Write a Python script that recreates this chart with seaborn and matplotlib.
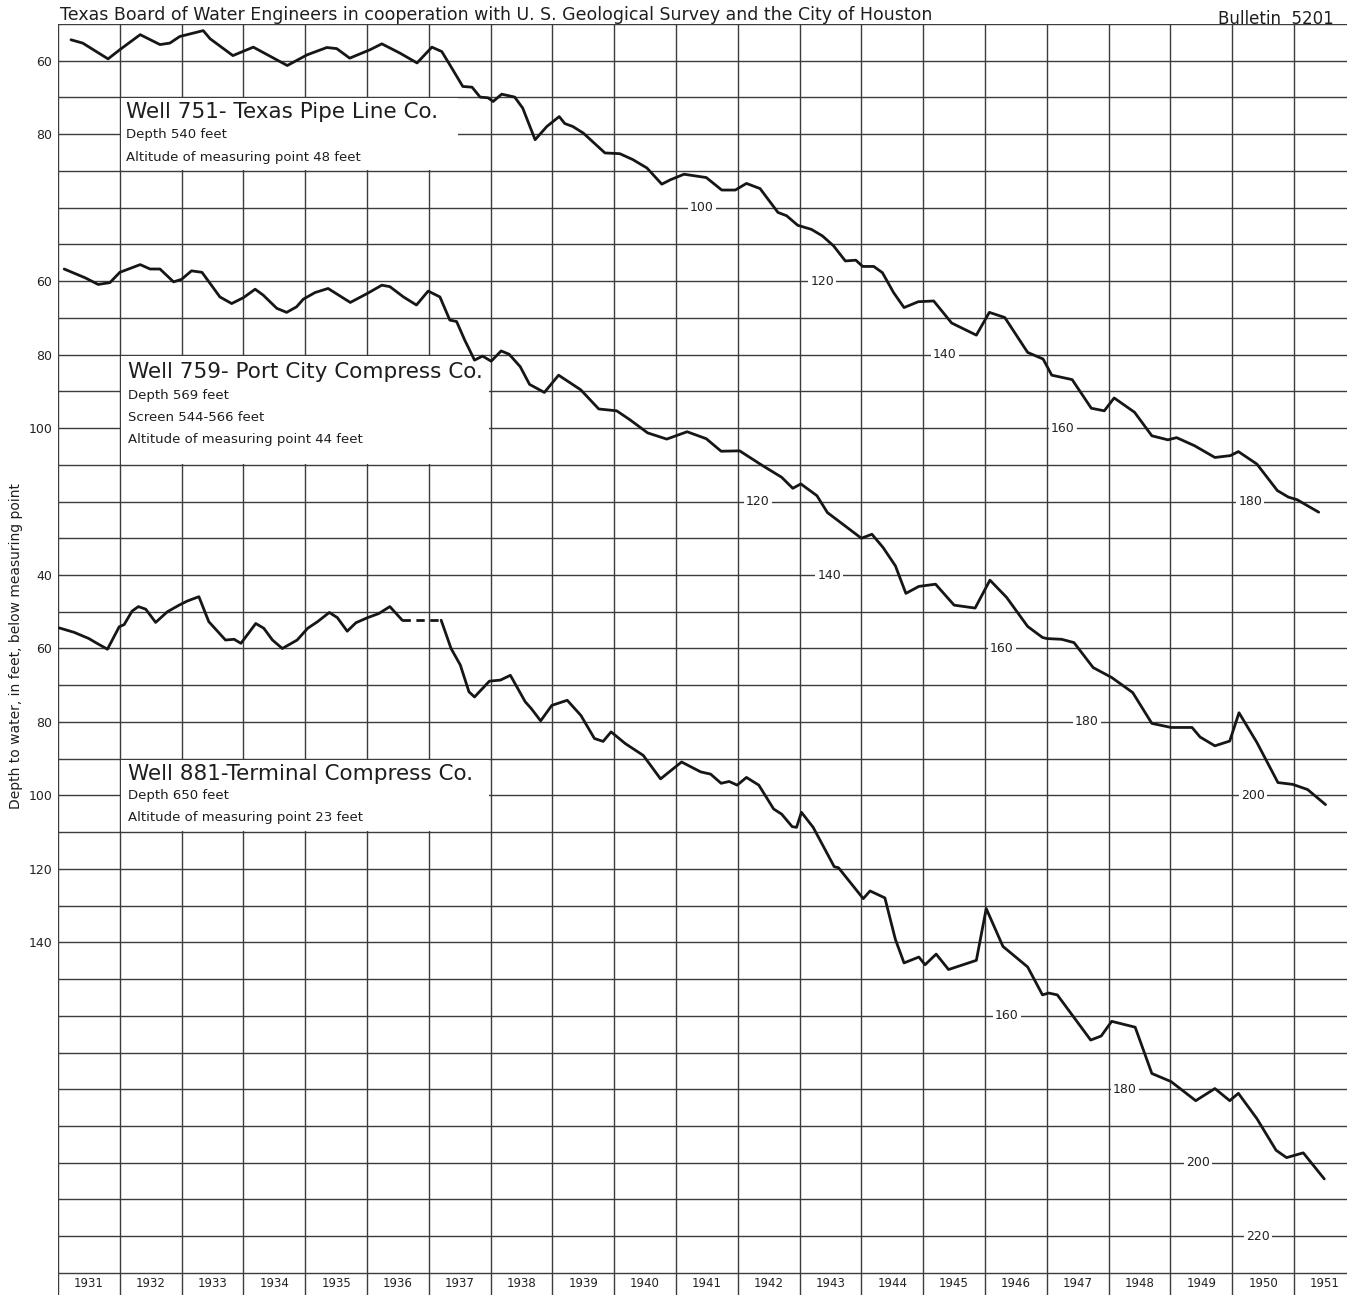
import numpy as np
import pandas as pd
import matplotlib
matplotlib.use("Agg")
import matplotlib.pyplot as plt
import seaborn as sns
from matplotlib.patches import Rectangle

# Well 751 - Texas Pipe Line Co.
years_751 = [1931.21, 1931.40, 1931.81, 1932.00, 1932.33, 1932.65, 1932.81, 1932.97, 1933.35, 1933.46,
             1933.83, 1934.16, 1934.71, 1935.03, 1935.35, 1935.51, 1935.72, 1936.05, 1936.24, 1936.53,
             1936.81, 1937.05, 1937.21, 1937.34, 1937.55, 1937.70, 1937.83, 1937.96, 1938.04, 1938.18,
             1938.39, 1938.52, 1938.72, 1938.91, 1939.11, 1939.20, 1939.33, 1939.50, 1939.85, 1940.09,
             1940.30, 1940.53, 1940.77, 1940.91, 1941.13, 1941.49, 1941.74, 1941.96, 1942.14, 1942.36,
             1942.65, 1942.79, 1942.97, 1943.19, 1943.37, 1943.55, 1943.74, 1943.91, 1944.02, 1944.20,
             1944.34, 1944.52, 1944.69, 1944.92, 1945.17, 1945.46, 1945.86, 1946.07, 1946.32, 1946.69,
             1946.94, 1947.08, 1947.41, 1947.72, 1947.93, 1948.09, 1948.42, 1948.70, 1948.96, 1949.10,
             1949.39, 1949.72, 1949.97, 1950.10, 1950.40, 1950.73, 1950.91, 1951.05, 1951.40]
depth_751 = [54.3, 55.2, 59.5, 57.0, 52.9, 55.6, 55.2, 53.4, 51.8, 54.0,
             58.6, 56.3, 61.3, 58.4, 56.4, 56.7, 59.3, 57.0, 55.4, 57.9,
             60.6, 56.3, 57.5, 61.1, 67.0, 67.2, 69.9, 70.1, 71.1, 69.1,
             69.9, 72.9, 81.5, 77.9, 75.2, 77.1, 77.9, 79.7, 85.1, 85.3,
             86.9, 89.2, 93.6, 92.4, 90.9, 91.8, 95.2, 95.2, 93.4, 94.8,
             101.3, 102.2, 104.8, 105.9, 107.7, 110.4, 114.5, 114.3, 116.0, 116.0,
             117.7, 123.1, 127.2, 125.6, 125.4, 131.4, 134.7, 128.5, 129.9, 139.4,
             141.2, 145.6, 146.8, 154.6, 155.3, 151.8, 155.7, 162.1, 163.2, 162.6,
             164.8, 168.0, 167.5, 166.4, 169.8, 177.0, 178.8, 179.5, 182.9]

# Well 759 - Port City Compress Co.
years_759 = [1931.10, 1931.44, 1931.65, 1931.84, 1932.00, 1932.33, 1932.49, 1932.65, 1932.87, 1933.00,
             1933.16, 1933.33, 1933.62, 1933.81, 1934.00, 1934.19, 1934.32, 1934.54, 1934.70, 1934.86,
             1934.97, 1935.16, 1935.37, 1935.73, 1936.00, 1936.24, 1936.37, 1936.59, 1936.80, 1936.99,
             1937.18, 1937.34, 1937.45, 1937.58, 1937.74, 1937.87, 1938.01, 1938.17, 1938.30, 1938.48,
             1938.63, 1938.87, 1939.10, 1939.46, 1939.75, 1940.04, 1940.26, 1940.54, 1940.85, 1941.18,
             1941.49, 1941.73, 1942.03, 1942.38, 1942.71, 1942.89, 1943.02, 1943.28, 1943.45, 1944.00,
             1944.17, 1944.35, 1944.55, 1944.72, 1944.93, 1945.20, 1945.50, 1945.84, 1946.08, 1946.35,
             1946.69, 1946.93, 1947.00, 1947.24, 1947.44, 1947.75, 1948.05, 1948.39, 1948.70, 1949.01,
             1949.35, 1949.48, 1949.72, 1949.96, 1950.11, 1950.40, 1950.74, 1950.98, 1951.22, 1951.51]
depth_759 = [56.7, 59.1, 60.9, 60.4, 57.6, 55.5, 56.7, 56.7, 60.2, 59.5,
             57.2, 57.6, 64.3, 66.1, 64.5, 62.2, 63.8, 67.4, 68.5, 67.0,
             64.9, 63.1, 62.0, 65.8, 63.4, 61.1, 61.5, 64.3, 66.5, 62.7,
             64.3, 70.6, 71.0, 76.0, 81.5, 80.4, 81.8, 79.0, 79.9, 83.3,
             88.1, 90.3, 85.6, 89.6, 94.8, 95.3, 97.8, 101.3, 103.0, 101.0,
             102.9, 106.3, 106.2, 110.0, 113.4, 116.4, 115.2, 118.4, 123.0, 130.0,
             128.9, 132.5, 137.5, 145.0, 143.1, 142.5, 148.2, 149.0, 141.4, 146.1,
             154.0, 157.0, 157.3, 157.5, 158.4, 165.2, 167.9, 172.0, 180.4, 181.5,
             181.5, 184.1, 186.5, 185.2, 177.5, 185.6, 196.5, 197.0, 198.4, 202.5]

# Well 881 - Terminal Compress Co. (record broken in 1936-37)
years_881a = [1931.02, 1931.26, 1931.50, 1931.61, 1931.80, 1931.99, 1932.07, 1932.20, 1932.30, 1932.42,
              1932.58, 1932.77, 1932.96, 1933.09, 1933.28, 1933.44, 1933.71, 1933.85, 1933.96, 1934.20,
              1934.33, 1934.47, 1934.63, 1934.87, 1935.04, 1935.20, 1935.39, 1935.52, 1935.68, 1935.82,
              1936.01, 1936.19, 1936.37, 1936.57]
depth_881a = [54.4, 55.6, 57.3, 58.4, 60.2, 54.1, 53.5, 49.8, 48.6, 49.3,
              52.9, 50.0, 48.2, 47.1, 45.9, 52.7, 57.7, 57.5, 58.6, 53.2,
              54.5, 57.7, 60.0, 57.7, 54.5, 52.7, 50.2, 51.6, 55.3, 53.0,
              51.6, 50.5, 48.6, 52.3]
years_881b = [1937.20, 1937.36, 1937.51, 1937.65, 1937.74, 1937.98, 1938.16, 1938.32, 1938.56, 1938.66,
              1938.81, 1938.99, 1939.24, 1939.46, 1939.68, 1939.82, 1939.95, 1940.18, 1940.47, 1940.75,
              1941.09, 1941.40, 1941.56, 1941.73, 1941.86, 1941.99, 1942.14, 1942.34, 1942.58, 1942.71,
              1942.88, 1942.95, 1943.03, 1943.22, 1943.56, 1943.63, 1944.03, 1944.14, 1944.38, 1944.55,
              1944.69, 1944.93, 1945.03, 1945.21, 1945.41, 1945.86, 1946.02, 1946.29, 1946.69, 1946.93,
              1947.03, 1947.17, 1947.71, 1947.88, 1948.05, 1948.43, 1948.70, 1949.01, 1949.41, 1949.72,
              1949.96, 1950.10, 1950.40, 1950.71, 1950.88, 1951.15, 1951.49]
depth_881b = [52.3, 60.0, 64.5, 71.8, 73.2, 68.9, 68.6, 67.3, 74.5, 76.4,
              79.7, 75.5, 74.1, 78.2, 84.5, 85.3, 82.7, 85.9, 89.1, 95.5,
              90.9, 93.6, 94.2, 96.7, 96.2, 97.2, 95.1, 97.2, 103.7, 105.1,
              108.5, 108.7, 104.6, 108.7, 119.4, 119.7, 128.1, 126.0, 127.9, 139.2,
              145.6, 144.0, 146.1, 143.2, 147.4, 144.9, 130.8, 141.1, 146.7, 154.3,
              153.8, 154.3, 166.6, 165.5, 161.5, 163.1, 175.7, 177.9, 183.1, 179.8,
              183.1, 181.1, 188.0, 196.6, 198.6, 197.3, 204.4]

# axis labels of each panel (feet below measuring point)
left_ticks_751 = [60, 80]
left_ticks_759 = [60, 80, 100]
left_ticks_881 = [40, 60, 80, 100, 120, 140]
inline_751 = [100, 120, 140, 160, 180]
inline_759 = [120, 140, 160, 180, 200]
inline_881 = [160, 180, 200, 220]
year_labels = list(range(1931, 1952))

# the three hydrographs share one sheet; each is shifted to its own place
offset = {"751": -160, "759": -100, "881": 0}
inline_x = {"751": [1941.42, 1943.37, 1945.35, 1947.26, 1950.29],
            "759": [1942.32, 1943.48, 1946.27, 1947.65, 1950.33],
            "881": [1946.35, 1948.26, 1949.45, 1950.42]}

sns.set_style("white")
plt.rcParams["font.family"] = ["DejaVu Sans"]

W, H = 1347, 1295
fig = plt.figure(figsize=(W / 100, H / 100), dpi=100)
ax = fig.add_axes([58 / W, 0, (W - 58) / W, (H - 24) / H])
ax.set_xlim(1931, 1931 + (W - 58) / 61.8)
ax.set_ylim(236.0, -110)
for s in ax.spines.values():
    s.set_visible(False)

grid_kw = dict(color="#3c3c3c", lw=1.0, zorder=1)
for y in np.arange(-110, 231, 10):
    ax.axhline(y, **grid_kw)
for x in range(1931, 1952):
    ax.axvline(x, **grid_kw)

# blank panels for the well captions
for y0, y1, x1 in [(-90, -70, 1937.5), (-20, 10, 1938.0), (90, 110, 1938.0)]:
    ax.add_patch(Rectangle((1932.02, y0 + 0.25), x1 - 1932.04, y1 - y0 - 0.5,
                           facecolor="white", edgecolor="none", zorder=2))

frames = []
for name, yrs, dep in [("751", years_751, depth_751), ("759", years_759, depth_759),
                       ("881a", years_881a, depth_881a), ("881b", years_881b, depth_881b)]:
    frames.append(pd.DataFrame({"year": yrs, "level": np.array(dep) + offset[name[:3]],
                                "well": name}))
df = pd.concat(frames)
for name, g in df.groupby("well"):
    sns.lineplot(data=g, x="year", y="level", ax=ax, color="#161616", lw=2.0,
                 sort=False, estimator=None, zorder=4)
gap = pd.DataFrame({"year": [years_881a[-1], years_881b[0]],
                    "level": [depth_881a[-1], depth_881b[0]]})
sns.lineplot(data=gap, x="year", y="level", ax=ax, color="#161616", lw=2.0,
             linestyle=(0, (3, 2)), sort=False, estimator=None, zorder=4)
ax.set_xlabel("")
ax.set_ylabel("")

ticks = ([v + offset["751"] for v in left_ticks_751] + [v + offset["759"] for v in left_ticks_759]
         + [v + offset["881"] for v in left_ticks_881])
labels = [str(v) for v in left_ticks_751 + left_ticks_759 + left_ticks_881]
ax.set_yticks(ticks, labels)
ax.set_xticks([])
ax.tick_params(axis="y", length=0, pad=4, labelsize=9, colors="#222222")

lab_kw = dict(ha="center", va="center", fontsize=9, color="#222222", zorder=3,
              bbox=dict(facecolor="white", edgecolor="none", pad=1.5))
for name, vals in [("751", inline_751), ("759", inline_759), ("881", inline_881)]:
    for v, x in zip(vals, inline_x[name]):
        ax.text(x, v + offset[name], str(v), **lab_kw)

for yr in year_labels:
    ax.text(yr + 0.5, 233.0, str(yr), ha="center", va="center", fontsize=8.5, color="#222222")

cap_kw = dict(ha="left", va="center", color="#1e1e1e", zorder=3)
big, small = 15.5, 9.5
ax.text(1932.1, -86.0, "Well 751- Texas Pipe Line Co.", fontsize=big, **cap_kw)
ax.text(1932.1, -80.0, "Depth 540 feet", fontsize=small, **cap_kw)
ax.text(1932.1, -73.7, "Altitude of measuring point 48 feet", fontsize=small, **cap_kw)

ax.text(1932.13, -15.3, "Well 759- Port City Compress Co.", fontsize=big, **cap_kw)
ax.text(1932.13, -8.9, "Depth 569 feet", fontsize=small, **cap_kw)
ax.text(1932.13, -3.0, "Screen 544-566 feet", fontsize=small, **cap_kw)
ax.text(1932.13, 3.0, "Altitude of measuring point 44 feet", fontsize=small, **cap_kw)

ax.text(1932.13, 94.1, "Well 881-Terminal Compress Co.", fontsize=big, **cap_kw)
ax.text(1932.13, 100.1, "Depth 650 feet", fontsize=small, **cap_kw)
ax.text(1932.13, 105.9, "Altitude of measuring point 23 feet", fontsize=small, **cap_kw)

fig.text(60 / W, 1 - 15 / H,
         "Texas Board of Water Engineers in cooperation with U. S. Geological Survey and the City of Houston",
         ha="left", va="center", fontsize=12.5, color="#1e1e1e")
fig.text(1218 / W, 1 - 19 / H, "Bulletin  5201", ha="left", va="center", fontsize=12,
         color="#1e1e1e")
fig.text(16 / W, 1 - 646 / H, "Depth to water, in feet, below measuring point",
         rotation=90, ha="center", va="center", fontsize=10, color="#1e1e1e")

fig.savefig("out.png", dpi=100, facecolor="white")
